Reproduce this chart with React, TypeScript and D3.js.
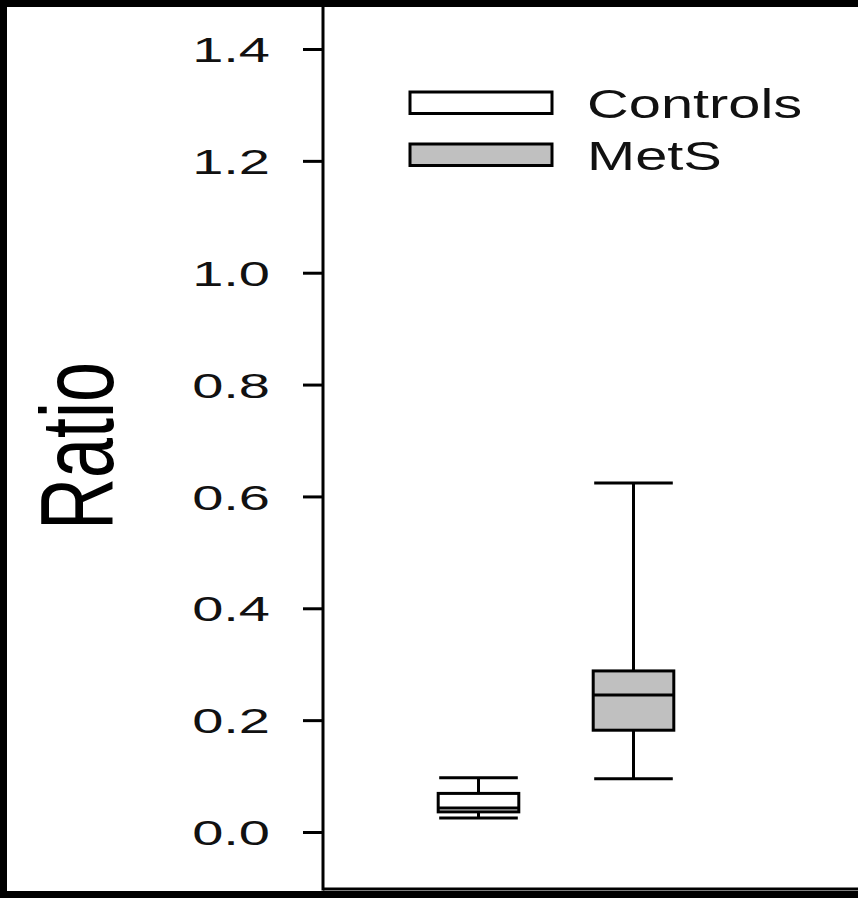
import React, { useEffect, useRef } from 'react';
import * as d3 from 'd3';

// box plot values
const groups = ['Controls', 'MetS'];
const mins = [0.025, 0.095];
const q1s = [0.036, 0.182];
const medians = [0.043, 0.245];
const q3s = [0.069, 0.288];
const maxs = [0.097, 0.624];
const fills = ['#ffffff', '#c0c0c0'];

const tickValues = [0, 0.2, 0.4, 0.6, 0.8, 1.0, 1.2, 1.4];
const tickLabels = ['0.0', '0.2', '0.4', '0.6', '0.8', '1.0', '1.2', '1.4'];

export default function App() {
  const ref = useRef<SVGSVGElement | null>(null);

  useEffect(() => {
    const width = 858;
    const height = 898;
    const axisX = 323;
    const axisBottom = 889;
    const font = "'Liberation Sans', Arial, Helvetica, sans-serif";

    const svg = d3.select(ref.current);
    svg.selectAll('*').remove();

    // black frame with white panel
    svg.append('rect').attr('width', width).attr('height', height).attr('fill', '#000');
    svg.append('rect').attr('x', 7).attr('y', 7).attr('width', width - 7).attr('height', 884).attr('fill', '#fff');

    const yScale = d3.scaleLinear().domain([0, 1.4]).range([832, 49]);
    const xScale = d3.scaleBand().domain(groups).range([401, 711]);
    const boxW = xScale.bandwidth() * 0.52;
    const capW = boxW - 2;

    // y axis
    const yAxis = d3.axisLeft(yScale)
      .tickValues(tickValues)
      .tickSize(20)
      .tickFormat((d, i) => tickLabels[i]);
    const gy = svg.append('g').attr('transform', 'translate(' + axisX + ',0)').call(yAxis);
    gy.select('.domain').remove();
    gy.selectAll('line').attr('stroke', '#000').attr('stroke-width', 3);
    gy.selectAll('text')
      .attr('font-family', font)
      .attr('font-size', 35)
      .attr('fill', '#111')
      .attr('x', -53 / 1.6)
      .attr('dy', '0.36em')
      .attr('transform', 'scale(1.6,1)');

    // axis lines
    svg.append('line').attr('x1', axisX).attr('x2', axisX).attr('y1', 0).attr('y2', axisBottom + 1.5)
      .attr('stroke', '#000').attr('stroke-width', 3);
    svg.append('line').attr('x1', axisX).attr('x2', width).attr('y1', axisBottom).attr('y2', axisBottom)
      .attr('stroke', '#000').attr('stroke-width', 3);

    // y title
    svg.append('text')
      .attr('transform', 'translate(113,446) scale(1.45,1) rotate(-90)')
      .attr('text-anchor', 'middle')
      .attr('font-family', font)
      .attr('font-size', 72)
      .attr('fill', '#000')
      .text('Ratio');

    // boxes
    groups.forEach(function (g, i) {
      const cx = (xScale(g) as number) + xScale.bandwidth() / 2;
      const b = svg.append('g').attr('stroke', '#000').attr('stroke-width', 3);
      b.append('line').attr('x1', cx).attr('x2', cx).attr('y1', yScale(maxs[i])).attr('y2', yScale(q3s[i]));
      b.append('line').attr('x1', cx).attr('x2', cx).attr('y1', yScale(q1s[i])).attr('y2', yScale(mins[i]));
      b.append('line').attr('x1', cx - capW / 2).attr('x2', cx + capW / 2).attr('y1', yScale(maxs[i])).attr('y2', yScale(maxs[i]));
      b.append('line').attr('x1', cx - capW / 2).attr('x2', cx + capW / 2).attr('y1', yScale(mins[i])).attr('y2', yScale(mins[i]));
      b.append('rect')
        .attr('x', cx - boxW / 2)
        .attr('y', yScale(q3s[i]))
        .attr('width', boxW)
        .attr('height', yScale(q1s[i]) - yScale(q3s[i]))
        .attr('fill', fills[i]);
      b.append('line').attr('x1', cx - boxW / 2).attr('x2', cx + boxW / 2).attr('y1', yScale(medians[i])).attr('y2', yScale(medians[i]));
    });

    // legend
    const legendY = [92, 144];
    groups.forEach(function (g, i) {
      svg.append('rect')
        .attr('x', 410).attr('y', legendY[i]).attr('width', 142).attr('height', 21.5)
        .attr('fill', fills[i]).attr('stroke', '#000').attr('stroke-width', 3);
      svg.append('text')
        .attr('transform', 'translate(587,' + (legendY[i] + 25.5) + ') scale(1.41,1)')
        .attr('font-family', font)
        .attr('font-size', 41)
        .attr('fill', '#111')
        .text(g);
    });
  }, []);

  return (
    <svg ref={ref} width={858} height={898} style={{ position: 'absolute', left: 0, top: 0, display: 'block' }} />
  );
}
